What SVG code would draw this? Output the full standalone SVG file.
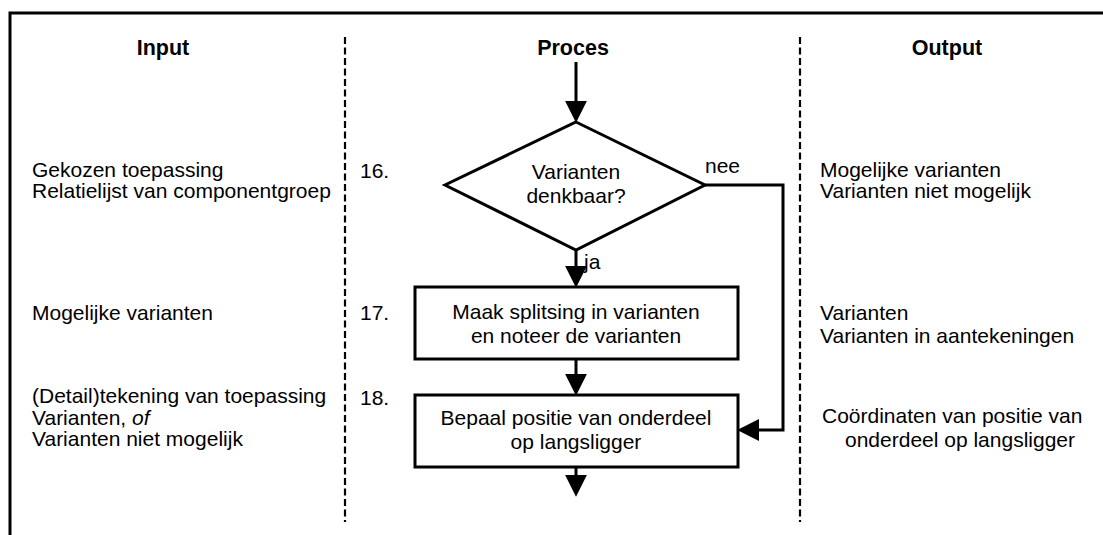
<svg xmlns="http://www.w3.org/2000/svg" width="1103" height="535" viewBox="0 0 1103 535">
<style>
text{font-family:"Liberation Sans",Arial,sans-serif;font-size:21px;fill:#000}
.h{font-weight:bold;font-size:21.5px;text-anchor:middle}
.c{text-anchor:middle}
.frame{fill:none;stroke:#000;stroke-width:3}
.div{fill:none;stroke:#000;stroke-width:2.2;stroke-dasharray:7 3.5}
.shape{fill:#fff;stroke:#000;stroke-width:3}
.conn{fill:none;stroke:#000;stroke-width:3}
</style>
<defs>
<marker id="ah" markerUnits="userSpaceOnUse" markerWidth="22" markerHeight="22" refX="12" refY="10" orient="auto" viewBox="0 0 20 20">
<path d="M0,0 L20,10 L0,20 z" fill="#000"/>
</marker>
</defs>
<rect width="1103" height="535" fill="#fff"/>
<g id="frame">
<path class="frame" d="M10,535 V13 H1103"/>
<line class="div" x1="345" y1="37" x2="345" y2="522"/>
<line class="div" x1="800" y1="37" x2="800" y2="522"/>
</g>
<g id="headers">
<text class="h" x="163" y="55">Input</text>
<text class="h" x="573" y="55">Proces</text>
<text class="h" x="947" y="55">Output</text>
</g>
<g id="connectors">
<line class="conn" x1="576" y1="62" x2="576" y2="114" marker-end="url(#ah)"/>
<line class="conn" x1="576" y1="250" x2="576" y2="279" marker-end="url(#ah)"/>
<line class="conn" x1="576" y1="359" x2="576" y2="387" marker-end="url(#ah)"/>
<line class="conn" x1="576" y1="467" x2="576" y2="488" marker-end="url(#ah)"/>
<path class="conn" d="M705,185 H783 V430 H746" marker-end="url(#ah)"/>
<text x="705" y="173">nee</text>
<text x="584" y="269">ja</text>
</g>
<g id="step16">
<text x="360" y="178">16.</text>
<polygon class="shape" points="576,122 705,185 576,250 445,185"/>
<text class="c" x="576" y="179">Varianten</text>
<text class="c" x="576" y="203">denkbaar?</text>
</g>
<g id="step17">
<text x="360" y="320">17.</text>
<rect class="shape" x="415" y="287" width="323" height="72"/>
<text class="c" x="576" y="319">Maak splitsing in varianten</text>
<text class="c" x="576" y="343">en noteer de varianten</text>
</g>
<g id="step18">
<text x="360" y="405">18.</text>
<rect class="shape" x="415" y="395" width="323" height="72"/>
<text class="c" x="576" y="425">Bepaal positie van onderdeel</text>
<text class="c" x="576" y="449">op langsligger</text>
</g>
<g id="input">
<text x="32" y="177">Gekozen toepassing</text>
<text x="32" y="198">Relatielijst van componentgroep</text>
<text x="32" y="320">Mogelijke varianten</text>
<text x="32" y="403">(Detail)tekening van toepassing</text>
<text x="32" y="425">Varianten, <tspan font-style="italic">of</tspan></text>
<text x="32" y="446">Varianten niet mogelijk</text>
</g>
<g id="output">
<text x="820" y="177">Mogelijke varianten</text>
<text x="820" y="198">Varianten niet mogelijk</text>
<text x="820" y="320">Varianten</text>
<text x="820" y="343">Varianten in aantekeningen</text>
<text x="822" y="423">Coördinaten van positie van</text>
<text x="845" y="447">onderdeel op langsligger</text>
</g>
</svg>
